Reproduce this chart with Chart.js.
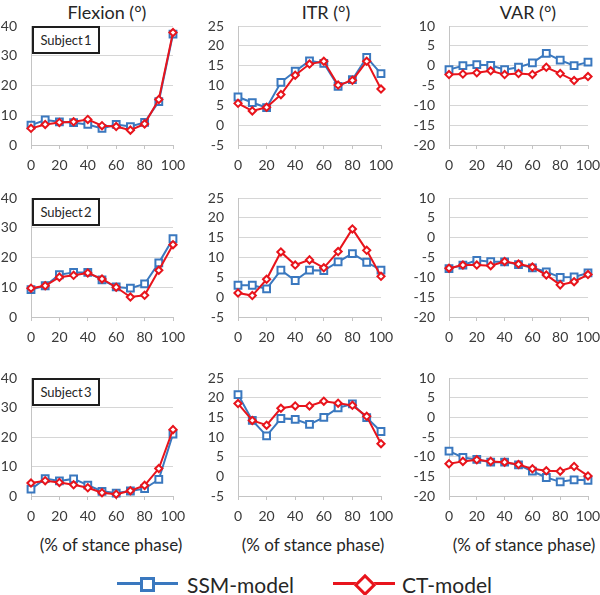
<!DOCTYPE html>
<html>
<head>
<meta charset="utf-8">
<script src="https://cdn.jsdelivr.net/npm/chart.js@4.4.1/dist/chart.umd.min.js"></script>
<style>
  body { margin: 0; background: #fff; width: 600px; height: 595px; position: relative; overflow: hidden; font-family: Lato, sans-serif; color: #262626; }
  canvas { position: absolute; }
  .t { position: absolute; transform: translate(-50%, -50%); white-space: nowrap; }
  .title { font-size: 18px; }
  .xt { font-size: 17px; }
  .subj { position: absolute; width: 64px; height: 24px; border: 2px solid #1e1e1e; font-size: 13px; line-height: 24px; text-align: center; background: #fff; word-spacing: -2px; }
  .leg { position: absolute; font-size: 21px; line-height: 1; transform: translateY(-50%); }
</style>
</head>
<body>

<div class="t title" style="left:107px;top:12px">Flexion (°)</div>
<div class="t title" style="left:326px;top:12px">ITR (°)</div>
<div class="t title" style="left:528px;top:12px">VAR (°)</div>

<div class="t xt" style="left:111px;top:544px">(% of stance phase)</div>
<div class="t xt" style="left:313px;top:544px">(% of stance phase)</div>
<div class="t xt" style="left:524px;top:544px">(% of stance phase)</div>

<!-- legend -->
<div style="position:absolute;left:117px;top:582px;width:61px;height:3px;background:#3a78bf"></div>
<div style="position:absolute;left:140px;top:577px;width:9px;height:9px;border:3px solid #3a78bf;background:#fff"></div>
<div class="leg" style="left:187px;top:584px">SSM-model</div>
<div style="position:absolute;left:333px;top:582px;width:62px;height:3px;background:#e8141c"></div>
<div style="position:absolute;left:357px;top:577px;width:10px;height:10px;border:3px solid #e8141c;background:#fff;transform:rotate(45deg)"></div>
<div class="leg" style="left:402px;top:584px">CT-model</div>

<script>
// % of stance phase
const pct = [0, 10, 20, 30, 40, 50, 60, 70, 80, 90, 100];

// Subject 1
const flexSSM1 = [6.7, 8.4, 7.8, 7.5, 6.9, 5.6, 6.9, 6.2, 7.6, 14.6, 37.3];
const flexCT1  = [5.6, 6.9, 7.6, 7.8, 8.6, 6.5, 6.2, 5.0, 7.1, 15.3, 37.8];
const itrSSM1  = [7.1, 5.7, 4.4, 10.8, 13.6, 16.2, 15.6, 9.8, 11.5, 17.1, 13.0];
const itrCT1   = [5.5, 3.6, 4.5, 7.7, 12.6, 15.4, 16.1, 10.1, 11.3, 16.1, 9.1];
const varSSM1  = [-1.0, 0.0, 0.25, 0.1, -1.0, -0.4, 0.7, 3.1, 1.4, 0.0, 0.9];
const varCT1   = [-2.25, -2.1, -1.8, -1.3, -2.25, -2.0, -2.2, -0.4, -2.0, -3.75, -2.75];

// Subject 2
const flexSSM2 = [9.2, 10.5, 14.2, 15.0, 15.0, 12.5, 10.1, 9.7, 11.1, 18.2, 26.3];
const flexCT2  = [9.7, 10.5, 13.4, 14.0, 14.8, 12.8, 10.0, 6.7, 7.3, 15.7, 24.3];
const itrSSM2  = [3.0, 3.0, 2.1, 6.8, 4.2, 6.8, 6.7, 8.9, 11.0, 8.8, 6.8];
const itrCT2   = [1.05, 0.4, 4.5, 11.4, 8.1, 9.4, 7.4, 11.5, 17.2, 11.8, 5.25];
const varSSM2  = [-7.8, -6.9, -5.7, -6.05, -6.1, -6.8, -7.6, -8.6, -10.0, -9.9, -8.9];
const varCT2   = [-7.7, -6.9, -6.9, -7.05, -6.0, -6.65, -7.4, -9.4, -11.9, -11.1, -9.3];

// Subject 3
const flexSSM3 = [2.3, 5.9, 5.1, 5.8, 3.7, 1.6, 1.0, 1.7, 2.5, 5.6, 21.0];
const flexCT3  = [4.4, 5.2, 4.6, 3.8, 2.8, 1.1, 0.6, 1.8, 3.6, 9.3, 22.5];
const itrSSM3  = [20.8, 14.2, 10.3, 14.7, 14.5, 13.2, 15.0, 17.4, 18.4, 14.9, 11.4];
const itrCT3   = [18.5, 14.2, 13.0, 17.3, 17.9, 17.9, 19.1, 18.6, 18.05, 15.25, 8.3];
const varSSM3  = [-8.6, -10.2, -10.7, -11.4, -11.4, -12.1, -13.7, -15.3, -16.4, -15.9, -16.0];
const varCT3   = [-11.8, -11.2, -10.8, -11.2, -11.4, -12.0, -13.1, -13.6, -13.7, -12.5, -14.9];

const subjects = ['Subject 1', 'Subject 2', 'Subject 3'];

const BLUE = '#3a78bf';
const RED = '#e8141c';
const GRID = '#d6d6d6';
const AXIS = '#c4c4c4';
const TICK = '#3a3a3a';

// plot area edges in page pixels
const cols = [{ l: 31, r: 173 }, { l: 238, r: 381 }, { l: 449, r: 588 }];
const rows = [{ t: 26, b: 145 }, { t: 198, b: 317 }, { t: 378, b: 496 }];

const ranges = [
  { min: 0, max: 40, step: 10 },
  { min: -5, max: 25, step: 5 },
  { min: -20, max: 10, step: 5 }
];

const panels = [
  [[flexSSM1, flexCT1], [itrSSM1, itrCT1], [varSSM1, varCT1]],
  [[flexSSM2, flexCT2], [itrSSM2, itrCT2], [varSSM2, varCT2]],
  [[flexSSM3, flexCT3], [itrSSM3, itrCT3], [varSSM3, varCT3]]
];

const Y_W = 50, X_H = 34, PAD_T = 14, PAD_R = 12;

function toXY(vals) {
  return pct.map((x, i) => ({ x: x, y: vals[i] }));
}

panels.forEach((row, ri) => {
  row.forEach((pair, ci) => {
    const c = cols[ci], r = rows[ri], rg = ranges[ci];
    const L = c.l - Y_W, T = r.t - PAD_T;
    const W = c.r - L + PAD_R, H = r.b - T + X_H;

    const cv = document.createElement('canvas');
    cv.width = W; cv.height = H;
    cv.style.left = L + 'px';
    cv.style.top = T + 'px';
    document.body.appendChild(cv);

    new Chart(cv, {
      type: 'line',
      data: {
        datasets: [
          {
            label: 'CT-model',
            data: toXY(pair[1]),
            borderColor: RED,
            borderWidth: 2,
            pointStyle: 'rectRot',
            pointRadius: 3.6,
            pointBorderWidth: 2,
            pointBorderColor: RED,
            pointBackgroundColor: '#fff',
            clip: false
          },
          {
            label: 'SSM-model',
            data: toXY(pair[0]),
            borderColor: BLUE,
            borderWidth: 2,
            pointStyle: 'rect',
            pointRadius: 4.8,
            pointBorderWidth: 2,
            pointBorderColor: BLUE,
            pointBackgroundColor: '#fff',
            clip: false
          }
        ]
      },
      options: {
        responsive: false,
        animation: false,
        events: [],
        layout: { padding: { top: PAD_T, right: PAD_R, left: 0, bottom: 0 } },
        plugins: { legend: { display: false }, tooltip: { enabled: false } },
        scales: {
          x: {
            type: 'linear', min: 0, max: 100,
            ticks: { stepSize: 20, padding: 8, maxRotation: 0, autoSkip: false, color: TICK, font: { family: 'Lato', size: 14 } },
            grid: { drawOnChartArea: false, tickLength: 4, color: AXIS },
            border: { color: AXIS },
            afterFit(s) { s.height = X_H; s.paddingLeft = 0; s.paddingRight = 0; }
          },
          y: {
            min: rg.min, max: rg.max,
            ticks: { stepSize: rg.step, padding: 14, autoSkip: false, color: TICK, font: { family: 'Lato', size: 14 } },
            grid: { drawTicks: false, color: GRID },
            border: { color: AXIS },
            afterFit(s) { s.width = Y_W; s.paddingTop = 0; s.paddingBottom = 0; }
          }
        }
      }
    });
  });

  const box = document.createElement('div');
  box.className = 'subj';
  box.textContent = subjects[ri];
  box.style.left = '32px';
  box.style.top = rows[ri].t + 'px';
  document.body.appendChild(box);
});
</script>
</body>
</html>
